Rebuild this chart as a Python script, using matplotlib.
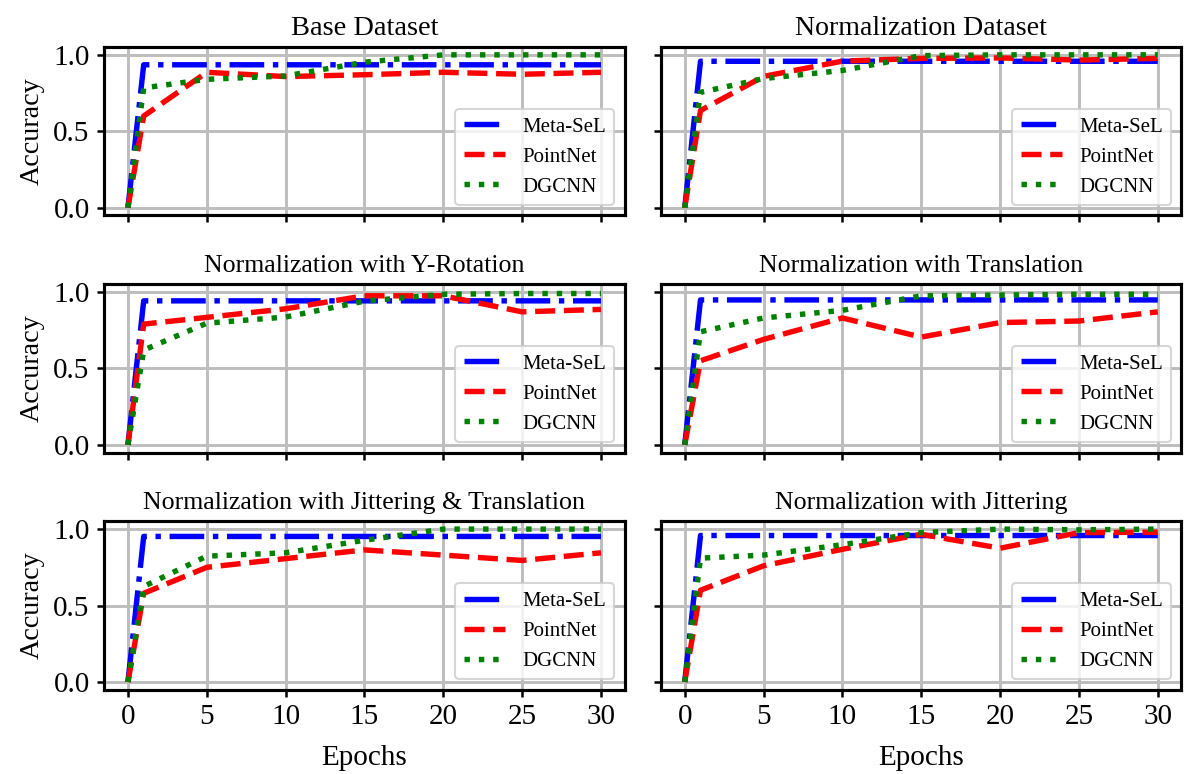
import matplotlib
matplotlib.use("Agg")
import matplotlib.pyplot as plt

plt.rcParams['font.family'] = ['Liberation Serif', 'DejaVu Serif']
plt.rcParams['mathtext.fontset'] = 'stix'

epochs = [0, 1, 5, 10, 15, 20, 25, 30]

titles = [
    "Base Dataset",
    "Normalization Dataset",
    "Normalization with Y-Rotation",
    "Normalization with Translation",
    "Normalization with Jittering & Translation",
    "Normalization with Jittering",
]
title_sizes = [13.6, 13.4, 12.4, 12.4, 12.4, 12.4]

meta_sel = [
    [0.0, 0.935, 0.935, 0.935, 0.935, 0.935, 0.935, 0.935],
    [0.0, 0.958, 0.958, 0.958, 0.958, 0.958, 0.958, 0.958],
    [0.0, 0.942, 0.942, 0.942, 0.942, 0.942, 0.942, 0.942],
    [0.0, 0.948, 0.948, 0.948, 0.948, 0.948, 0.948, 0.948],
    [0.0, 0.952, 0.952, 0.952, 0.952, 0.952, 0.952, 0.952],
    [0.0, 0.958, 0.958, 0.958, 0.958, 0.958, 0.958, 0.958],
]

pointnet = [
    [0.0, 0.60, 0.886, 0.858, 0.870, 0.886, 0.873, 0.886],
    [0.0, 0.636, 0.859, 0.959, 0.977, 0.980, 0.966, 0.977],
    [0.0, 0.79, 0.834, 0.89, 0.975, 0.975, 0.87, 0.886],
    [0.0, 0.55, 0.69, 0.83, 0.705, 0.80, 0.81, 0.87],
    [0.0, 0.58, 0.75, 0.807, 0.864, 0.83, 0.795, 0.845],
    [0.0, 0.60, 0.76, 0.868, 0.966, 0.875, 0.977, 0.98],
]

dgcnn = [
    [0.0, 0.784, 0.84, 0.862, 0.952, 1.0, 1.0, 1.0],
    [0.0, 0.755, 0.845, 0.898, 0.995, 1.0, 1.0, 1.0],
    [0.0, 0.62, 0.796, 0.836, 0.94, 0.985, 0.99, 0.99],
    [0.0, 0.74, 0.83, 0.88, 0.975, 0.98, 0.985, 0.985],
    [0.0, 0.625, 0.823, 0.845, 0.927, 1.0, 1.0, 1.0],
    [0.0, 0.81, 0.83, 0.898, 0.977, 1.0, 0.995, 1.0],
]

fig, axes = plt.subplots(3, 2, sharex=True, sharey=True, figsize=(7.9, 5.16), dpi=150)
fig.subplots_adjust(left=0.088, right=0.997, top=0.939, bottom=0.109,
                    hspace=0.41, wspace=0.07)

for i, ax in enumerate(axes.flat):
    ax.plot(epochs, meta_sel[i], color='blue', linestyle='-.', linewidth=2.6, label='Meta-SeL')
    ax.plot(epochs, pointnet[i], color='red', linestyle='--', linewidth=2.6, label='PointNet')
    ax.plot(epochs, dgcnn[i], color='green', linestyle=':', linewidth=2.6, label='DGCNN')
    ax.set_title(titles[i], fontsize=title_sizes[i])
    ax.grid(True, color='#bdbdbd', linewidth=1.4)
    ax.set_xticks([0, 5, 10, 15, 20, 25, 30])
    ax.set_yticks([0.0, 0.5, 1.0])
    ax.tick_params(labelsize=14, width=1.2)
    for s in ax.spines.values():
        s.set_linewidth(1.5)
    ax.legend(loc='lower right', fontsize=10)
    if i % 2 == 0:
        ax.set_ylabel('Accuracy', fontsize=13.5)
    if i >= 4:
        ax.set_xlabel('Epochs', fontsize=14, labelpad=7)

fig.savefig('out.png', dpi=150)
